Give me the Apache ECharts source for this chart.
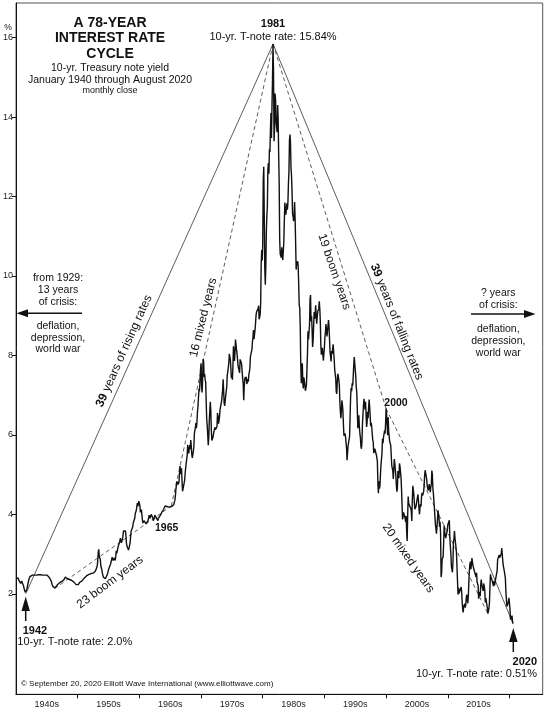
<!DOCTYPE html>
<html>
<head>
<meta charset="utf-8">
<script src="https://cdn.jsdelivr.net/npm/echarts@6/dist/echarts.min.js"></script>
<style>
  html, body { margin: 0; padding: 0; background: #fff; }
  #main { width: 558px; height: 711px; }
</style>
</head>
<body>
<div id="main"></div>
<script>
// monthly close, 10-yr Treasury note yield (Jan 1940 .. Aug 2020)
var startYear = 1940;

var yields1940s = [
  2.38, 2.36, 2.34, 2.35, 2.40, 2.37, 2.33, 2.30, 2.28, 2.26, 2.30, 2.32,
  2.27, 2.25, 2.26, 2.18, 2.12, 2.08, 2.04, 2.00, 2.03, 2.10, 2.17, 2.24,
  2.30, 2.36, 2.40, 2.43, 2.45, 2.46, 2.47, 2.46, 2.47, 2.48, 2.47, 2.48,
  2.47, 2.48, 2.47, 2.46, 2.47, 2.48, 2.47, 2.46, 2.48, 2.49, 2.48, 2.47,
  2.48, 2.47, 2.49, 2.48, 2.47, 2.48, 2.49, 2.48, 2.47, 2.48, 2.49, 2.48,
  2.47, 2.46, 2.45, 2.44, 2.42, 2.40, 2.38, 2.36, 2.34, 2.30, 2.24, 2.20,
  2.18, 2.16, 2.14, 2.13, 2.15, 2.17, 2.16, 2.19, 2.22, 2.24, 2.25, 2.27,
  2.26, 2.28, 2.27, 2.29, 2.30, 2.31, 2.33, 2.32, 2.33, 2.35, 2.37, 2.40,
  2.42, 2.43, 2.41, 2.40, 2.38, 2.36, 2.37, 2.38, 2.36, 2.35, 2.36, 2.35,
  2.34, 2.33, 2.32, 2.31, 2.30, 2.29, 2.27, 2.25, 2.24, 2.23, 2.22, 2.22
];
var yields1950s = [
  2.21, 2.23, 2.25, 2.27, 2.29, 2.31, 2.33, 2.30, 2.32, 2.35, 2.36, 2.37,
  2.38, 2.40, 2.42, 2.44, 2.43, 2.45, 2.47, 2.44, 2.46, 2.48, 2.50, 2.52,
  2.50, 2.49, 2.51, 2.48, 2.46, 2.49, 2.52, 2.55, 2.57, 2.58, 2.56, 2.60,
  2.62, 2.65, 2.70, 2.83, 3.05, 3.12, 2.93, 2.95, 2.87, 2.70, 2.68, 2.60,
  2.52, 2.47, 2.42, 2.38, 2.42, 2.43, 2.38, 2.42, 2.44, 2.47, 2.50, 2.52,
  2.61, 2.65, 2.68, 2.73, 2.75, 2.77, 2.86, 2.92, 2.90, 2.84, 2.86, 2.90,
  2.88, 2.84, 2.94, 3.08, 3.02, 2.98, 3.06, 3.20, 3.24, 3.22, 3.32, 3.40,
  3.35, 3.28, 3.32, 3.38, 3.45, 3.58, 3.63, 3.60, 3.62, 3.58, 3.45, 3.25,
  3.20, 3.16, 3.12, 3.10, 3.13, 3.15, 3.28, 3.45, 3.58, 3.62, 3.60, 3.68,
  3.78, 3.75, 3.80, 3.90, 4.02, 4.05, 4.10, 4.12, 4.28, 4.20, 4.22, 4.33
];
var yields1960s = [
  4.38, 4.22, 4.05, 4.08, 4.12, 3.98, 3.85, 3.78, 3.79, 3.84, 3.88, 3.82,
  3.80, 3.76, 3.73, 3.76, 3.71, 3.85, 3.90, 3.98, 3.95, 3.90, 3.92, 4.00,
  4.03, 4.00, 3.92, 3.84, 3.87, 3.90, 3.98, 3.96, 3.95, 3.91, 3.90, 3.86,
  3.84, 3.90, 3.92, 3.95, 3.93, 3.98, 4.01, 4.00, 4.06, 4.09, 4.10, 4.12,
  4.16, 4.15, 4.21, 4.22, 4.20, 4.17, 4.18, 4.19, 4.20, 4.19, 4.15, 4.18,
  4.19, 4.21, 4.21, 4.20, 4.21, 4.21, 4.20, 4.25, 4.29, 4.35, 4.45, 4.62,
  4.61, 4.83, 4.87, 4.75, 4.78, 4.81, 5.02, 5.22, 5.18, 5.01, 5.16, 4.84,
  4.58, 4.63, 4.54, 4.59, 4.85, 5.02, 5.16, 5.28, 5.30, 5.48, 5.75, 5.70,
  5.53, 5.56, 5.74, 5.64, 5.87, 5.72, 5.50, 5.42, 5.46, 5.58, 5.70, 6.03,
  6.04, 6.19, 6.30, 6.17, 6.32, 6.57, 6.72, 6.69, 7.16, 7.10, 7.14, 7.65
];
var yields1970s = [
  7.80, 7.24, 7.07, 7.39, 7.91, 7.84, 7.46, 7.53, 7.39, 7.33, 6.84, 6.39,
  6.24, 6.00, 5.74, 5.93, 6.34, 6.60, 6.83, 6.60, 6.11, 5.86, 5.81, 5.93,
  5.95, 6.08, 6.07, 6.19, 6.13, 6.11, 6.11, 6.21, 6.55, 6.48, 6.28, 6.36,
  6.46, 6.64, 6.71, 6.67, 6.85, 6.90, 7.13, 7.40, 7.09, 6.79, 6.73, 6.74,
  6.99, 6.96, 7.21, 7.51, 7.58, 7.54, 7.81, 8.04, 8.04, 7.90, 7.68, 7.43,
  7.50, 7.39, 7.73, 8.23, 8.06, 7.86, 8.06, 8.40, 8.43, 8.14, 8.05, 8.00,
  7.74, 7.79, 7.73, 7.56, 7.90, 7.86, 7.83, 7.77, 7.59, 7.41, 7.29, 6.87,
  7.21, 7.39, 7.46, 7.37, 7.46, 7.28, 7.33, 7.40, 7.34, 7.52, 7.58, 7.69,
  7.96, 8.03, 8.04, 8.15, 8.35, 8.46, 8.64, 8.41, 8.42, 8.64, 8.81, 9.01,
  9.10, 9.10, 9.12, 9.18, 9.25, 8.91, 8.95, 9.03, 9.33, 10.30, 10.65, 10.39
];
var yields1980s = [
  10.80, 12.41, 12.75, 11.47, 10.18, 9.78, 10.25, 11.10, 11.51, 11.75, 12.68, 12.84,
  12.57, 13.19, 13.12, 13.68, 14.10, 13.47, 14.28, 14.94, 15.84, 15.15, 13.39, 13.72,
  14.59, 14.43, 13.86, 13.87, 13.62, 14.30, 13.95, 13.06, 12.34, 10.91, 10.55, 10.54,
  10.46, 10.72, 10.51, 10.40, 10.38, 10.85, 11.38, 11.85, 11.65, 11.54, 11.69, 11.83,
  11.67, 11.84, 12.32, 12.63, 13.41, 13.56, 13.36, 12.72, 12.52, 12.16, 11.57, 11.50,
  11.38, 11.51, 11.86, 11.43, 10.85, 10.16, 10.31, 10.33, 10.37, 10.24, 9.78, 9.26,
  9.19, 8.70, 7.78, 7.30, 7.71, 7.80, 7.30, 7.17, 7.45, 7.43, 7.25, 7.11,
  7.08, 7.25, 7.25, 8.02, 8.61, 8.40, 8.45, 8.76, 9.42, 9.52, 8.86, 8.99,
  8.67, 8.21, 8.37, 8.72, 9.09, 8.92, 9.06, 9.26, 8.98, 8.80, 8.96, 9.11,
  9.09, 9.17, 9.36, 9.18, 8.86, 8.28, 8.02, 8.11, 8.19, 8.01, 7.87, 7.84
];
var yields1990s = [
  8.21, 8.47, 8.59, 8.79, 8.76, 8.48, 8.47, 8.75, 8.89, 8.72, 8.39, 8.08,
  8.09, 7.85, 8.11, 8.04, 8.07, 8.28, 8.27, 7.90, 7.65, 7.53, 7.42, 7.09,
  7.03, 7.34, 7.54, 7.48, 7.39, 7.26, 6.84, 6.59, 6.42, 6.59, 6.87, 6.77,
  6.60, 6.26, 5.98, 5.97, 6.04, 5.96, 5.81, 5.68, 5.36, 5.33, 5.72, 5.77,
  5.75, 5.97, 6.48, 6.97, 7.18, 7.10, 7.30, 7.24, 7.46, 7.74, 7.96, 7.81,
  7.78, 7.47, 7.20, 7.06, 6.63, 6.17, 6.28, 6.49, 6.20, 6.04, 5.93, 5.71,
  5.65, 5.81, 6.27, 6.51, 6.74, 6.91, 6.87, 6.64, 6.83, 6.53, 6.20, 6.30,
  6.58, 6.42, 6.69, 6.89, 6.71, 6.49, 6.22, 6.30, 6.21, 6.03, 5.88, 5.81,
  5.54, 5.57, 5.65, 5.64, 5.65, 5.50, 5.46, 5.34, 4.81, 4.53, 4.83, 4.65,
  4.72, 5.00, 5.23, 5.18, 5.54, 5.90, 5.79, 5.94, 5.92, 6.11, 6.03, 6.28
];
var yields2000s = [
  6.66, 6.52, 6.26, 5.99, 6.44, 6.10, 6.05, 5.83, 5.80, 5.74, 5.72, 5.24,
  5.16, 5.10, 4.89, 5.14, 5.39, 5.28, 5.24, 4.97, 4.73, 4.57, 4.65, 5.09,
  5.04, 4.91, 5.28, 5.21, 5.16, 4.93, 4.65, 4.26, 3.87, 3.94, 4.05, 4.03,
  4.05, 3.90, 3.81, 3.96, 3.57, 3.33, 3.98, 4.45, 4.27, 4.29, 4.30, 4.27,
  4.15, 4.08, 3.83, 4.35, 4.72, 4.73, 4.50, 4.28, 4.13, 4.10, 4.19, 4.23,
  4.22, 4.17, 4.50, 4.34, 4.14, 4.00, 4.18, 4.26, 4.20, 4.46, 4.54, 4.47,
  4.42, 4.57, 4.72, 4.99, 5.11, 5.11, 5.09, 4.88, 4.72, 4.73, 4.60, 4.56,
  4.76, 4.72, 4.56, 4.69, 4.75, 5.10, 5.00, 4.67, 4.52, 4.53, 4.15, 4.10,
  3.74, 3.74, 3.51, 3.68, 3.88, 4.10, 4.01, 3.89, 3.69, 3.81, 3.53, 2.42,
  2.52, 2.87, 2.82, 2.93, 3.29, 3.72, 3.56, 3.59, 3.40, 3.39, 3.40, 3.59
];
var yields2010s = [
  3.73, 3.69, 3.73, 3.85, 3.42, 3.20, 3.01, 2.70, 2.65, 2.54, 2.76, 3.29,
  3.39, 3.58, 3.41, 3.46, 3.17, 3.00, 3.00, 2.30, 1.98, 2.15, 2.01, 1.98,
  1.97, 1.97, 2.17, 2.05, 1.80, 1.62, 1.53, 1.68, 1.72, 1.75, 1.65, 1.72,
  1.91, 1.98, 1.96, 1.76, 1.93, 2.30, 2.58, 2.74, 2.81, 2.62, 2.72, 2.90,
  2.86, 2.71, 2.72, 2.71, 2.56, 2.60, 2.54, 2.42, 2.53, 2.30, 2.33, 2.21,
  1.88, 1.98, 2.04, 1.94, 2.20, 2.36, 2.32, 2.17, 2.17, 2.07, 2.26, 2.24,
  2.09, 1.78, 1.89, 1.81, 1.81, 1.64, 1.50, 1.56, 1.63, 1.76, 2.14, 2.49,
  2.43, 2.42, 2.48, 2.30, 2.30, 2.19, 2.32, 2.21, 2.20, 2.36, 2.35, 2.40,
  2.58, 2.86, 2.84, 2.87, 2.98, 2.91, 2.89, 2.89, 3.00, 3.15, 3.12, 2.83,
  2.71, 2.68, 2.57, 2.53, 2.40, 2.07, 2.06, 1.68, 1.72, 1.75, 1.81, 1.90
];
var yields2020 = [1.88, 1.62, 1.35, 1.30, 1.38, 1.45, 1.30, 1.25];

// trend lines drawn over the chart, [year, yield]
var risingLine  = [[1941.58, 2.00], [1981.67, 15.84]];
var fallingLine = [[1981.67, 15.84], [2020.58, 1.25]];
var boomLine1   = [[1946.25, 2.13], [1965.17, 4.21]];
var mixedLine1  = [[1965.17, 4.21], [1981.67, 15.84]];
var boomLine2   = [[1981.67, 15.84], [2000.0, 6.66]];
var mixedLine2  = [[2000.0, 6.66], [2016.5, 1.50]];

var yTicks = [2, 4, 6, 8, 10, 12, 14, 16];
var decadeTicks = [1950, 1960, 1970, 1980, 1990, 2000, 2010, 2020];
var decadeLabelPos = [1945, 1955, 1965, 1975, 1985, 1995, 2005, 2015];
var decadeLabels = ['1940s', '1950s', '1960s', '1970s', '1980s', '1990s', '2000s', '2010s'];

var yields = [].concat(yields1940s, yields1950s, yields1960s, yields1970s,
  yields1980s, yields1990s, yields2000s, yields2010s, yields2020);
var monthly = yields.map(function (v, i) { return [startYear + i / 12, v]; });

var FONT = 'Liberation Sans, Arial, sans-serif';
var INK = '#111';

function txt(x, y, s, size, opt) {
  opt = opt || {};
  return {
    type: 'text', x: x, y: y, rotation: (opt.rot || 0) * Math.PI / 180, silent: true,
    style: {
      text: s, fontSize: size, fontFamily: FONT, fontWeight: opt.bold ? 'bold' : 'normal',
      fill: INK, align: opt.align || 'center', verticalAlign: 'middle',
      rich: { b: { fontSize: size, fontFamily: FONT, fontWeight: 'bold', fill: INK } }
    }
  };
}
function seg(x1, y1, x2, y2, w) {
  return { type: 'line', silent: true, shape: { x1: x1, y1: y1, x2: x2, y2: y2 },
    style: { stroke: INK, lineWidth: w || 1.5 } };
}
function tri(pts) {
  return { type: 'polygon', silent: true, shape: { points: pts }, style: { fill: INK } };
}
function trend(data, dashed) {
  return {
    type: 'line', data: data, showSymbol: false, silent: true, z: 1,
    lineStyle: { color: '#333', width: 0.8, type: dashed ? [4, 3] : 'solid' }
  };
}

var chart = echarts.init(document.getElementById('main'));
chart.setOption({
  animation: false,
  grid: { left: 15, right: 15.3, top: 3, bottom: 16.7, show: true, borderColor: '#555', borderWidth: 1 },
  xAxis: {
    type: 'value', min: 1940, max: 2025.39,
    axisLine: { onZero: false, lineStyle: { color: INK, width: 1 } },
    axisTick: { customValues: decadeTicks, length: 4, lineStyle: { color: INK } },
    axisLabel: {
      customValues: decadeLabelPos, margin: 6, fontSize: 9, fontFamily: FONT, color: '#222',
      formatter: function (v) { return decadeLabels[Math.round((v - 1945) / 10)]; }
    },
    splitLine: { show: false }
  },
  yAxis: {
    type: 'value', min: -0.53, max: 16.87,
    axisLine: { show: true, onZero: false, lineStyle: { color: INK, width: 1 } },
    axisTick: { show: true, customValues: yTicks, length: 4, lineStyle: { color: INK } },
    axisLabel: { customValues: yTicks, margin: 3, fontSize: 9, fontFamily: FONT, color: '#222' },
    splitLine: { show: false }
  },
  series: [
    trend(risingLine, false),
    trend(fallingLine, false),
    trend(boomLine1, true),
    trend(mixedLine1, true),
    trend(boomLine2, true),
    trend(mixedLine2, true),
    {
      type: 'line', data: monthly, showSymbol: false, z: 3,
      lineStyle: { color: INK, width: 1.4 }
    }
  ],
  graphic: [
    txt(8, 28, '%', 8.5),
    txt(110, 22.7, 'A 78-YEAR', 14, { bold: true }),
    txt(110, 38.3, 'INTEREST RATE', 14, { bold: true }),
    txt(110, 53.8, 'CYCLE', 14, { bold: true }),
    txt(110, 68.5, '10-yr. Treasury note yield', 10.5),
    txt(110, 80, 'January 1940 through August 2020', 10.5),
    txt(110, 90.5, 'monthly close', 9),
    txt(273, 24, '1981', 11, { bold: true }),
    txt(273, 36.5, '10-yr. T-note rate: 15.84%', 11),

    txt(58, 278.3, 'from 1929:', 10.5),
    txt(58, 290, '13 years', 10.5),
    txt(58, 301.7, 'of crisis:', 10.5),
    txt(58, 326, 'deflation,', 10.5),
    txt(58, 338, 'depression,', 10.5),
    txt(58, 349.5, 'world war', 10.5),
    seg(82, 313.3, 25, 313.3, 1.6),
    tri([[16.5, 313.3], [28, 309.3], [28, 317.3]]),

    txt(498.3, 293.5, '? years', 10.5),
    txt(498.3, 305.5, 'of crisis:', 10.5),
    txt(498.3, 329.5, 'deflation,', 10.5),
    txt(498.3, 341.5, 'depression,', 10.5),
    txt(498.3, 353, 'world war', 10.5),
    seg(471, 314, 526, 314, 1.6),
    tri([[535.5, 314], [524, 310], [524, 318]]),

    txt(124, 351, '{b|39} years of rising rates', 12, { rot: 65.8 }),
    txt(203.3, 317.5, '16 mixed years', 12, { rot: 76 }),
    txt(334.2, 271.7, '19 boom years', 12, { rot: -71 }),
    txt(396.7, 321.7, '{b|39} years of falling rates', 12, { rot: -68 }),
    txt(408.3, 558.3, '20 mixed years', 12, { rot: -55 }),
    txt(110, 582.3, '23 boom years', 12, { rot: 37 }),

    txt(166.7, 528, '1965', 10.5, { bold: true }),
    txt(396, 403.3, '2000', 10.5, { bold: true }),

    tri([[25.7, 596.5], [21.5, 611], [29.9, 611]]),
    seg(25.7, 610, 25.7, 621, 1.5),
    txt(22.7, 630.7, '1942', 11, { bold: true, align: 'left' }),
    txt(17.3, 642.3, '10-yr. T-note rate: 2.0%', 11, { align: 'left' }),

    tri([[513.3, 628], [509, 642], [517.6, 642]]),
    seg(513.3, 641, 513.3, 652, 1.5),
    txt(537, 661.7, '2020', 11, { bold: true, align: 'right' }),
    txt(537, 674.3, '10-yr. T-note rate: 0.51%', 11, { align: 'right' }),

    txt(21, 683.3, '\u00a9 September 20, 2020 Elliott Wave International (www.elliottwave.com)', 8, { align: 'left' })
  ]
});
</script>
</body>
</html>
